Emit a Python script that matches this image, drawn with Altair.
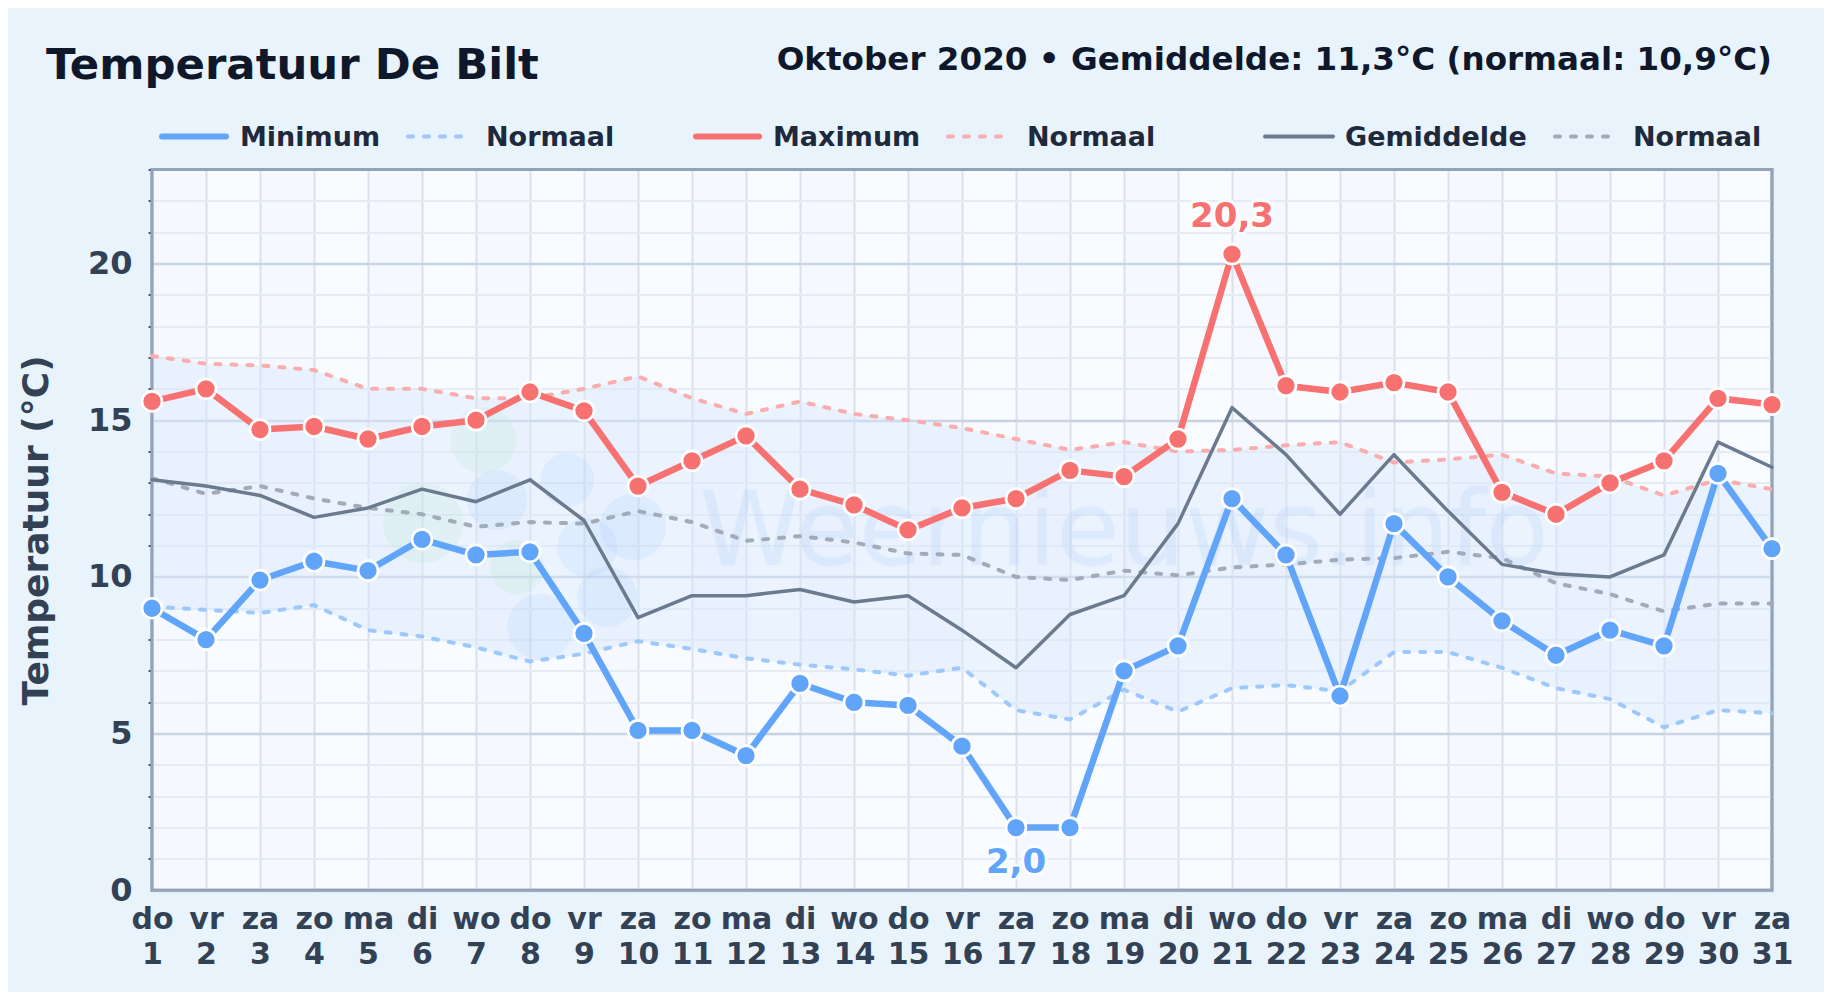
import altair as alt
import pandas as pd

weekdays = ["do","vr","za","zo","ma","di","wo","do","vr","za","zo","ma","di","wo","do","vr","za","zo","ma","di","wo","do","vr","za","zo","ma","di","wo","do","vr","za"]
days = list(range(1, 32))
t_min = [9.0,8.0,9.9,10.5,10.2,11.2,10.7,10.8,8.2,5.1,5.1,4.3,6.6,6.0,5.9,4.6,2.0,2.0,7.0,7.8,12.5,10.7,6.2,11.7,10.0,8.6,7.5,8.3,7.8,13.3,10.9]
t_max = [15.6,16.0,14.7,14.8,14.4,14.8,15.0,15.9,15.3,12.9,13.7,14.5,12.8,12.3,11.5,12.2,12.5,13.4,13.2,14.4,20.3,16.1,15.9,16.2,15.9,12.7,12.0,13.0,13.7,15.7,15.5]
t_avg = [13.1,12.9,12.6,11.9,12.2,12.8,12.4,13.1,11.8,8.7,9.4,9.4,9.6,9.2,9.4,8.3,7.1,8.8,9.4,11.7,15.4,13.9,12.0,13.9,12.1,10.4,10.1,10.0,10.7,14.3,13.5]
n_max = [17.05,16.8,16.75,16.6,16.0,16.0,15.7,15.7,16.0,16.4,15.7,15.2,15.6,15.2,15.0,14.75,14.4,14.05,14.3,14.0,14.05,14.2,14.3,13.65,13.75,13.9,13.3,13.2,12.6,13.1,12.8]
n_min = [9.05,8.95,8.85,9.1,8.3,8.1,7.75,7.3,7.55,7.95,7.7,7.4,7.2,7.05,6.85,7.1,5.75,5.45,6.4,5.7,6.45,6.55,6.35,7.6,7.6,7.1,6.45,6.1,5.2,5.75,5.65]
n_avg = [13.15,12.65,12.9,12.5,12.2,12.0,11.6,11.75,11.7,12.1,11.75,11.15,11.3,11.1,10.75,10.7,10.0,9.9,10.2,10.05,10.3,10.4,10.55,10.6,10.8,10.6,9.8,9.45,8.9,9.15,9.15]

# Watermark logo blobs, in chart units
blob_day_green = [7.13, 6.02, 7.76]
blob_temp_green = [14.36, 11.72, 10.31]
blob_area_green = [4356, 6400, 2916]
blob_day_blue = [7.39, 8.69, 9.91, 9.43, 8.19, 9.06]
blob_temp_blue = [12.45, 13.09, 11.59, 9.36, 8.4, 10.95]
blob_area_blue = [3600, 2916, 4356, 3600, 4356, 3600]

BG = "#e8f3fc"
C_MIN, C_MAX, C_AVG = "#60a5fa", "#f87171", "#6b7a8f"
C_NMIN, C_NMAX, C_NAVG = "#9cc8fb", "#fbacac", "#a1abb9"
FONT = "DejaVu Sans"

df = pd.DataFrame(dict(day=days, t_min=t_min, t_max=t_max, t_avg=t_avg, n_min=n_min, n_max=n_max, n_avg=n_avg))
df["day2"] = df["day"] + 1

xscale = alt.Scale(domain=[1, 31], nice=False, zero=False)
yscale = alt.Scale(domain=[0, 23], nice=False)

wk = "[" + ",".join(f"'{w}'" for w in weekdays) + "]"
x_axis = alt.Axis(
    values=days, title=None, domain=False, ticks=False, grid=True,
    gridColor="#d9e0ea", gridWidth=2,
    labelExpr=f"[{wk}[datum.value-1], '' + datum.value]",
    labelFont=FONT, labelFontSize=30, labelFontWeight="bold", labelColor="#334155",
    labelPadding=14, labelLineHeight=35, labelOverlap=False, labelFlush=False, labelAngle=0,
)
y_axis = alt.Axis(
    values=list(range(0, 24)), title="Temperatuur (°C)", domain=False, grid=True,
    gridColor={"condition": {"test": "datum.value % 5 == 0", "value": "#c6d1e1"}, "value": "#e6ebf3"},
    gridWidth={"condition": {"test": "datum.value % 5 == 0", "value": 2.5}, "value": 2},
    tickColor={"condition": {"test": "datum.value % 5 == 0", "value": "transparent"}, "value": "#1e293b"},
    tickSize=4, tickWidth=1.5,
    labelExpr="datum.value % 5 == 0 ? datum.value : ''",
    labelFont=FONT, labelFontSize=32, labelFontWeight="bold", labelColor="#334155",
    labelPadding=16, labelOverlap=False,
    titleFont=FONT, titleFontSize=36, titleFontWeight="bold", titleColor="#334155",
    titleX=-97, titlePadding=20,
)


def XX(field="day"):
    return alt.X(f"{field}:Q", scale=xscale, axis=x_axis)


def Y(field):
    return alt.Y(f"{field}:Q", scale=yscale, axis=y_axis)


base = alt.Chart(df)
stripes = base.transform_filter("datum.day % 2 == 1 && datum.day < 31").mark_rect(color="#e6eef9", opacity=0.15).encode(
    x=XX(), x2="day2:Q", y=alt.value(0), y2=alt.value(720.8),
)

band = base.mark_area(color="#d9e8fc", opacity=0.45).encode(x=XX(), y=Y("n_min"), y2="n_max:Q")

frame = alt.Chart(pd.DataFrame({"a": [0]})).mark_rect(fill="transparent", stroke="#94a3b8", strokeWidth=3).encode(
    x=alt.value(0), x2=alt.value(1620), y=alt.value(0), y2=alt.value(720.8),
)

wm = alt.Chart(pd.DataFrame({"t": ["Weernieuws.info"]})).mark_text(
    font=FONT, fontSize=103, fontWeight="normal", color="#3b82f6", opacity=0.07,
    stroke="#3b82f6", strokeWidth=3, strokeOpacity=0.07, align="center", baseline="alphabetic",
).encode(text="t:N", x=alt.value(972), y=alt.value(395))

blob_g = alt.Chart(pd.DataFrame(dict(d=blob_day_green, t=blob_temp_green, s=blob_area_green))).mark_circle(
    color="#a7e3bd", opacity=0.15).encode(
    x=XX("d"), y=Y("t"), size=alt.Size("s:Q", scale=None, legend=None))
blob_b = alt.Chart(pd.DataFrame(dict(d=blob_day_blue, t=blob_temp_blue, s=blob_area_blue))).mark_circle(
    color="#60a5fa", opacity=0.09).encode(
    x=XX("d"), y=Y("t"), size=alt.Size("s:Q", scale=None, legend=None))


def dashed(field, color):
    return base.mark_line(color=color, strokeWidth=4, strokeDash=[5, 11], strokeCap="round").encode(x=XX(), y=Y(field))


def solid(field, color, w):
    return base.mark_line(color=color, strokeWidth=w, strokeCap="round", strokeJoin="round").encode(x=XX(), y=Y(field))


def dots(field, color):
    return base.mark_point(filled=True, color=color, fill=color, stroke="white", strokeWidth=2.7, size=400, opacity=1, strokeOpacity=1, fillOpacity=1).encode(x=XX(), y=Y(field))


def extreme(day, value, text, color, dy):
    d = alt.Chart(pd.DataFrame({"day": [day], "v": [value], "t": [text]}))
    enc = dict(x=XX(), y=Y("v"), text="t:N")
    kw = dict(font=FONT, fontSize=34, fontWeight="bold", align="center", baseline="alphabetic", dy=dy)
    return d.mark_text(stroke="white", strokeWidth=6, strokeOpacity=0.75, strokeJoin="round", color="white", **kw).encode(**enc) + d.mark_text(color=color, **kw).encode(**enc)


def label(text, x, y, size, color, align="left"):
    return alt.Chart(pd.DataFrame({"t": [text]})).mark_text(
        font=FONT, fontSize=size, fontWeight="bold", color=color, align=align, baseline="alphabetic"
    ).encode(text="t:N", x=alt.value(x), y=alt.value(y))


def key(x1, x2, color, w, dash=None):
    kw = dict(color=color, strokeWidth=w, strokeCap="round")
    if dash:
        kw["strokeDash"] = dash
    return alt.Chart(pd.DataFrame({"a": [0]})).mark_rule(**kw).encode(x=alt.value(x1), x2=alt.value(x2), y=alt.value(-33))


DOT = [5, 11]
layers = [
    stripes, band, frame, wm, blob_g, blob_b,
    dashed("n_min", C_NMIN), dashed("n_max", C_NMAX), dashed("n_avg", C_NAVG),
    solid("t_avg", C_AVG, 3.5), solid("t_max", C_MAX, 6.5), solid("t_min", C_MIN, 6.5),
    dots("t_max", C_MAX), dots("t_min", C_MIN),
    extreme(21, 20.3, "20,3", C_MAX, -27), extreme(17, 2.0, "2,0", C_MIN, 45),
    label("Temperatuur De Bilt", -106, -91, 43.4, "#0f172a"),
    label("Oktober 2020 • Gemiddelde: 11,3°C (normaal: 10,9°C)", 1620, -100, 32.6, "#0f172a", "right"),
    key(10, 74, C_MIN, 6), label("Minimum", 88, -24, 27, "#1e293b"),
    key(256, 312, C_NMIN, 4, DOT), label("Normaal", 334, -24, 27, "#1e293b"),
    key(544, 607, C_MAX, 6), label("Maximum", 621, -24, 27, "#1e293b"),
    key(796, 853, C_NMAX, 4, DOT), label("Normaal", 875, -24, 27, "#1e293b"),
    key(1113, 1181, C_AVG, 4), label("Gemiddelde", 1193, -24, 27, "#1e293b"),
    key(1403, 1466, C_NAVG, 4, DOT), label("Normaal", 1481, -24, 27, "#1e293b"),
]

chart = alt.layer(*layers).properties(
    width=1620, height=720.8, background=BG,
    padding={"left": 144, "top": 161.5, "right": 52, "bottom": 101.7},
    autosize=alt.AutoSizeParams(type="none"),
).configure_view(stroke="#94a3b8", strokeWidth=3, fill="#f8fbff")

chart.save("out.html", embed_options={"renderer": "svg", "actions": False})
